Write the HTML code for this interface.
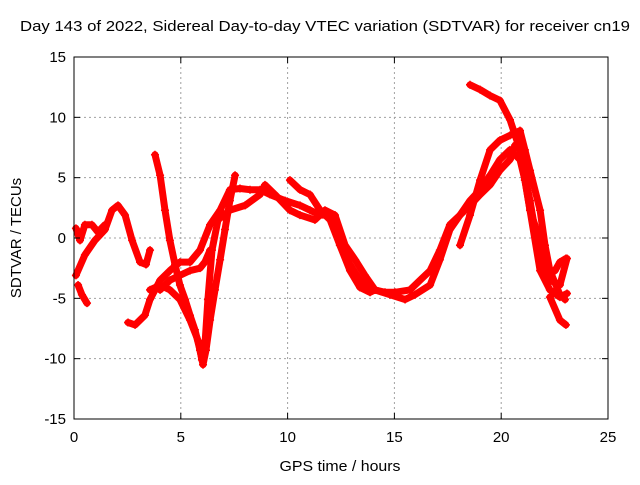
<!DOCTYPE html>
<html><head><meta charset="utf-8"><style>
body{margin:0;background:#fff}
svg text{font-family:"Liberation Sans",sans-serif;font-size:15px;fill:#000}
</style></head><body>
<svg id="chart" width="640" height="480" viewBox="0 0 640 480" xmlns="http://www.w3.org/2000/svg">
<text x="20" y="31" textLength="610" lengthAdjust="spacingAndGlyphs">Day 143 of 2022, Sidereal Day-to-day VTEC variation (SDTVAR) for receiver cn19</text>
<g id="grid"></g>
<g id="series"></g>
<rect x="74" y="57" width="534" height="362" fill="none" stroke="#000" stroke-width="1"/>
<g id="ticks"></g>
<text x="340" y="471" text-anchor="middle" textLength="121" lengthAdjust="spacingAndGlyphs">GPS time / hours</text>
<text transform="translate(21,238) rotate(-90)" text-anchor="middle">SDTVAR / TECUs</text>
</svg>
<script>
const xTicks=[0,5,10,15,20,25];
const yTicks=[-15,-10,-5,0,5,10,15];
const t1h=[0.09,0.51,0.98,1.45,1.78,2.06,2.39,2.72,3.09,3.37,3.56];
const t1v=[-3.1,-1.4,-0.2,0.7,2.3,2.7,1.9,-0.2,-2.0,-2.2,-1.0];
const t2h=[0.09,0.28,0.51,0.84,1.12,1.45];
const t2v=[0.8,-0.2,1.1,1.1,0.5,1.1];
const t3h=[0.19,0.37,0.61];
const t3v=[-3.9,-4.7,-5.4];
const t4h=[2.53,2.86,3.32,3.56,3.79,4.03,4.49,4.96,5.43,5.9,6.37,6.84,7.3,7.77,8.24,8.71,9.18,9.88,10.58,11.05,11.52,11.99,12.22,12.45,12.92,13.39,14.09,14.79,15.5,15.96,16.67,17.13,17.6,18.07,18.54,19.01,19.48,19.94,20.41,20.88,21.11,21.35,21.82,22.28,22.75,22.99];
const t4v=[-7.0,-7.2,-6.4,-5.1,-4.3,-3.5,-2.7,-2.0,-2.0,-1.0,1.1,2.3,4.0,4.1,4.0,4.0,3.6,3.1,2.7,2.3,1.9,1.9,1.5,-0.6,-2.2,-3.5,-4.3,-4.7,-5.1,-4.7,-3.9,-1.8,0.7,1.9,3.1,4.0,5.2,6.5,7.3,6.5,4.8,2.3,-0.2,-2.7,-4.7,-5.1];
const t5h=[3.79,4.03,4.26,4.49,4.73,4.96,5.2,5.43,5.66,5.9,6.04,6.18,6.37,6.6,6.84,7.07,7.3,7.54];
const t5v=[6.9,5.2,2.3,-0.2,-2.2,-3.9,-5.1,-6.4,-7.6,-9.3,-10.5,-9.3,-6.8,-4.3,-1.8,0.7,3.1,5.2];
const t6h=[3.56,4.03,4.49,4.96,5.43,5.81,5.99,6.13,6.27,6.46,6.74,7.3,8.01,8.71,8.94,9.41,10.11,10.58,11.28,11.75,12.22,12.69,13.16,13.62,14.09,14.56,15.03,15.73,16.2,16.67,17.13,17.6,18.07,18.54,19.01,19.48,19.94,20.41,20.65,20.88,21.11,21.35,21.58,21.82,22.28,22.75,23.08];
const t6v=[-4.3,-3.9,-4.3,-5.1,-6.8,-8.5,-10.1,-8.9,-5.1,-1.0,1.5,2.3,2.7,3.6,4.4,3.6,2.3,1.9,1.5,2.3,1.9,-0.6,-1.8,-3.1,-4.3,-4.5,-4.5,-4.3,-3.5,-2.7,-1.0,1.1,1.9,2.7,3.6,4.4,5.6,6.5,7.7,7.3,5.2,3.1,0.7,-1.8,-3.5,-3.9,-1.7];
const t7h=[18.54,19.01,19.48,19.94,20.41,20.88,21.11,21.35,21.82,22.28,22.75,23.08];
const t7v=[12.7,12.3,11.8,11.4,9.8,7.3,4.8,2.3,-2.7,-4.3,-4.9,-4.6];
const t8h=[10.11,10.58,11.05,11.52,11.99,12.45,12.92,13.39,13.86,14.09];
const t8v=[4.8,4.0,3.6,2.3,1.5,-0.6,-2.7,-4.1,-4.5,-4.3];
const t9h=[4.03,4.49,4.96,5.43,5.9,6.13,6.37];
const t9v=[-4.3,-3.5,-3.1,-2.7,-2.5,-2.0,-1.0];
const t10h=[18.07,18.54,19.01,19.48,19.94,20.41,20.88,21.11,21.35,21.82,22.05,22.28,22.52,22.75,23.03];
const t10v=[-0.6,1.9,4.8,7.3,8.1,8.5,8.9,7.3,5.6,2.3,-0.6,-2.7,-2.7,-2.0,-1.7];
const t11h=[22.28,22.75,23.03];
const t11v=[-4.9,-6.8,-7.2];

const X0=74,X1=608,Y0=419,Y1=57;
const sx=h=>X0+(h-0)/(25-0)*(X1-X0);
const sy=v=>Y0-(v+15)/30*(Y0-Y1);
const NS='http://www.w3.org/2000/svg';
const grid=document.getElementById('grid'),ticks=document.getElementById('ticks'),ser=document.getElementById('series');
function mk(tag,attrs,parent){const e=document.createElementNS(NS,tag);for(const k in attrs)e.setAttribute(k,attrs[k]);parent.appendChild(e);return e;}
xTicks.forEach(t=>{const x=sx(t);
 if(t>0&&t<25){const g=mk('line',{x1:x,x2:x,y1:Y1,y2:Y0,stroke:'#a0a0a0','stroke-dasharray':'2,3'},grid);}
 const a=mk('line',{x1:x,x2:x,y1:Y0,y2:Y0-6,stroke:'#000'},ticks);
 const b=mk('line',{x1:x,x2:x,y1:Y1,y2:Y1+6,stroke:'#000'},ticks);
 const l=mk('text',{x:x,y:442,'text-anchor':'middle'},ticks);l.textContent=t;});
yTicks.forEach(t=>{const y=sy(t);
 if(t>-15&&t<15){const g=mk('line',{x1:X0,x2:X1,y1:y,y2:y,stroke:'#a0a0a0','stroke-dasharray':'2,3'},grid);}
 const a=mk('line',{x1:X0,x2:X0+6,y1:y,y2:y,stroke:'#000'},ticks);
 const b=mk('line',{x1:X1,x2:X1-6,y1:y,y2:y,stroke:'#000'},ticks);
 const l=mk('text',{x:66,y:y+5,'text-anchor':'end'},ticks);l.textContent=t;});
const tracks=[[t1h,t1v],[t2h,t2v],[t3h,t3v],[t4h,t4v],[t5h,t5v],[t6h,t6v],[t7h,t7v],[t8h,t8v],[t9h,t9v],[t10h,t10v],[t11h,t11v]];
tracks.forEach(([hs,vs],i)=>{
 const pts=hs.map((h,j)=>sx(h).toFixed(1)+','+sy(vs[j]).toFixed(1)).join(' ');
 const p=mk('polyline',{points:pts,fill:'none',stroke:'#ff0000','stroke-width':7,'stroke-linejoin':'round','stroke-linecap':'round'},ser);
 
 
 hs.forEach((h,j)=>{const x=sx(h),y=sy(vs[j]);
  const m=mk('path',{d:`M${x-4},${y}h8M${x},${y-4}v8`,stroke:'#ff0000','stroke-width':1.5},ser);
  
  });
});
</script>
</body></html>
